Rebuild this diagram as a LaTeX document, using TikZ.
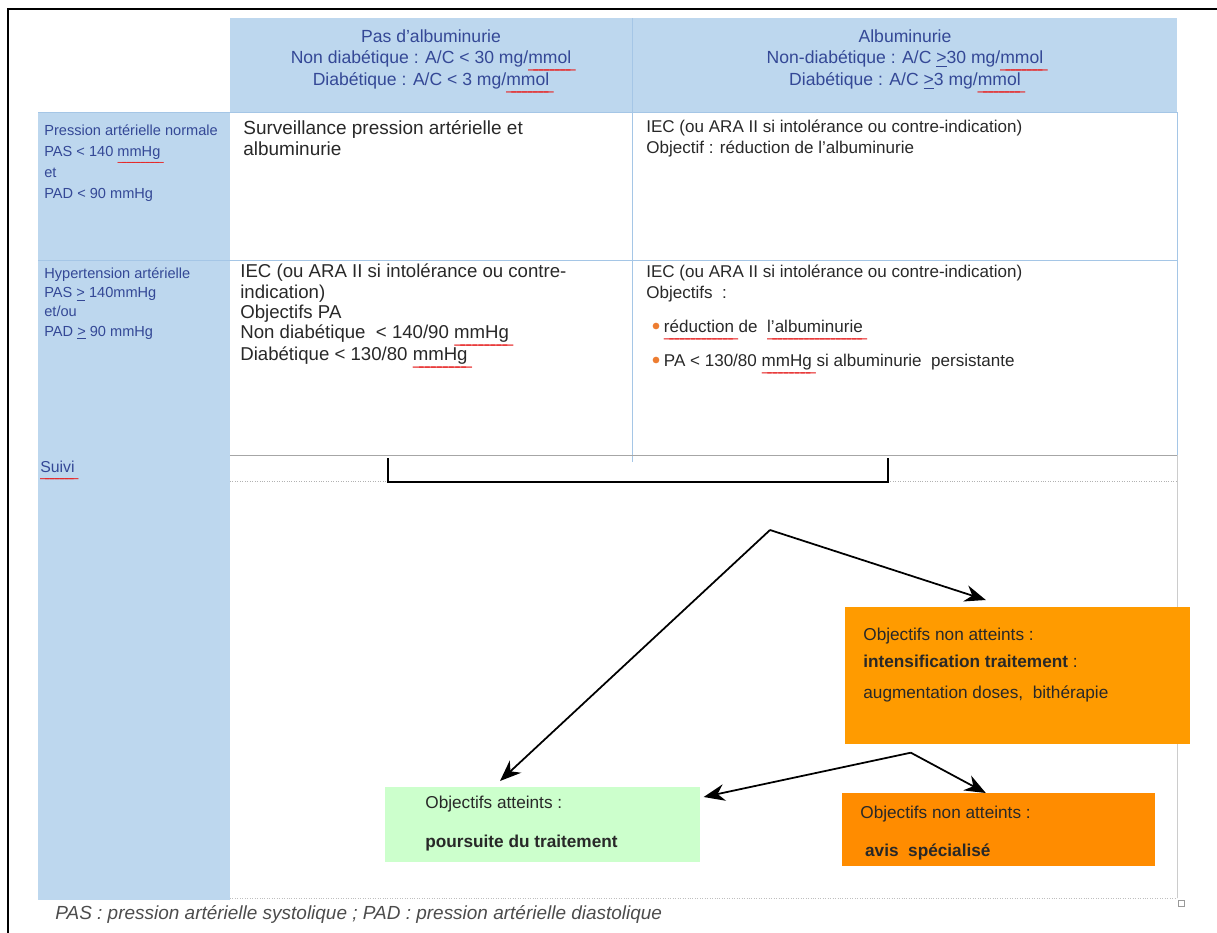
\documentclass[tikz,border=0pt]{standalone}
\usepackage{fontspec}
\setmainfont{Liberation Sans}
\newfontfamily\spellfont[Color=E62828]{Liberation Sans}
\usepackage{xcolor}
\usetikzlibrary{arrows.meta, calc}

\definecolor{cellblue}{RGB}{189,215,238}
\definecolor{gridblue}{RGB}{165,198,230}
\definecolor{headtext}{RGB}{52,72,150}
\definecolor{bodytext}{RGB}{40,40,40}
\definecolor{notmetorange}{RGB}{255,155,0}
\definecolor{expertorange}{RGB}{255,140,0}
\definecolor{metgreen}{RGB}{204,255,204}
\definecolor{dotorange}{RGB}{237,125,49}

% red line of the spell checker
\newcommand\spell[1]{\setbox0\hbox{#1}\rlap{\lower2.2pt\hbox to \wd0{\spellfont\xleaders\hbox to 0.3em{\_\hss}\hfil}}\box0\relax}
\newcommand\geline{\underline{>}}

\tikzset{
	head/.style={text=headtext, font=\fontsize{10}{11.9}\selectfont, anchor=north, inner sep=0pt},
	rowlabel/.style={text=headtext, font=\fontsize{8.3}{12}\selectfont, align=left, anchor=north west, inner sep=0pt},
	cell/.style={text=bodytext, font=\fontsize{10.6}{11.6}\selectfont, align=left, anchor=north west, inner sep=0pt},
	goalbox/.style={anchor=north west, inner sep=0pt},
	boxtext/.style={text=bodytext, font=\fontsize{9.8}{15.3}\selectfont, align=left, anchor=north west, inner sep=0pt},
	gridline/.style={gridblue, line width=0.5pt},
	flow/.style={-{Stealth[length=12pt,width=9.5pt]}, line width=1pt},
}

\begin{document}
\begin{tikzpicture}[x=0.02cm, y=-0.02cm]
		\useasboundingbox (0,0) rectangle (1217,933);
		\draw[line width=1.4pt] (8,933) -- (8,9) -- (1217,9);
		% table
		\fill[cellblue] (230,18) rectangle (1177,112);
		\fill[cellblue] (38,112) rectangle (230,900);
		\draw[gridline] (38,112) -- (1177,112);
		\draw[gridline] (38,260) -- (1177,260);
		\draw[gridline] (632,18) -- (632,462);
		\draw[gridline] (1177,112) -- (1177,455);
		\draw[black!35] (230,455) -- (1177,455);
		\draw[black!30, densely dotted] (230,481) -- (388,481);
		\draw[black!30, densely dotted] (888,481) -- (1177,481);
		\draw[black!20] (1177,455) -- (1177,898);
		\draw[black!25, densely dotted] (230,898) -- (1177,898);
		\draw[line width=1.2pt] (388,458) -- (388,482) -- (888,482) -- (888,458);
		\draw[black!40] (1178,900) rectangle (1184,906);
		% header
		\node[head] (hnone) at (431,28) {\begin{tabular}{@{}c@{}}Pas d'albuminurie\\ Non diabétique : A/C < 30 mg/\spell{mmol}\\ Diabétique : A/C < 3 mg/\spell{mmol}\end{tabular}};
		\node[head] (halb) at (905,28) {\begin{tabular}{@{}c@{}}Albuminurie\\ Non-diabétique : A/C \geline30 mg/\spell{mmol}\\ Diabétique : A/C \geline3 mg/\spell{mmol}\end{tabular}};
		% row labels
		\node[rowlabel] (lnormal) at (44,120) {\begin{tabular}{@{}l@{}}Pression artérielle normale\\ PAS < 140 \spell{mmHg}\\ et\\ PAD < 90 mmHg\end{tabular}};
		\node[rowlabel, font=\fontsize{8.3}{11}\selectfont] (lhyper) at (44,267) {Hypertension artérielle\\ PAS \geline{} 140mmHg\\ et/ou\\ PAD \geline{} 90 mmHg};
		\node[rowlabel, font=\fontsize{9}{11}\selectfont] (suivi) at (40,461) {\spell{Suivi}};
		% cells
		\node[cell, font=\fontsize{10.8}{12}\selectfont] (csurv) at (243,120) {Surveillance pression artérielle et\\ albuminurie};
		\node[cell, font=\fontsize{9.7}{12}\selectfont] (credu) at (646,120) {IEC (ou ARA II si intolérance ou contre-indication)\\ Objectif : réduction de l'albuminurie};
		\node[cell] (cpa) at (240,263) {\begin{tabular}{@{}l@{}}IEC (ou ARA II si intolérance ou contre-\\ indication)\\ Objectifs PA\\ Non diabétique \ < 140/90 \spell{mmHg}\\ Diabétique < 130/80 \spell{mmHg}\end{tabular}};
		\node[cell, font=\fontsize{9.7}{11.9}\selectfont] (cgoals) at (646,263) {\begin{tabular}{@{}l@{}}IEC (ou ARA II si intolérance ou contre-indication)\\ Objectifs \ :\\[7.4pt]
			\hspace*{10pt}\spell{réduction} de \ \spell{l'albuminurie}\\[7.4pt]
			\hspace*{10pt}PA < 130/80 \spell{mmHg} si albuminurie \ persistante\end{tabular}};
		\fill[dotorange] (656,326) circle[radius=1.9pt];
		\fill[dotorange] (656,360) circle[radius=1.9pt];
		% follow-up
		\node[goalbox, fill=notmetorange, minimum width=6.9cm, minimum height=2.74cm] (notmet) at (845,607) {};
		\node[boxtext] (notmettxt) at ($(notmet.north west)+(18,21)$) {Objectifs non atteints :\\ \textbf{intensification traitement} :\\[2pt] augmentation doses, \ bithérapie};
		\node[goalbox, fill=metgreen, minimum width=6.3cm, minimum height=1.5cm] (met) at (385,787) {};
		\node[boxtext, font=\fontsize{9.8}{22}\selectfont] (mettxt) at ($(met.north west)+(40,9)$) {Objectifs atteints :\\ \textbf{poursuite du traitement}};
		\node[goalbox, fill=expertorange, minimum width=6.26cm, minimum height=1.46cm] (expert) at (842,793) {};
		\node[boxtext, font=\fontsize{9.8}{21.5}\selectfont] (experttxt) at ($(expert.north west)+(18,13)$) {Objectifs non atteints :\\ \ \textbf{avis \ spécialisé}};
		\coordinate (fork) at (770,530);
		\coordinate (fork2) at ($(notmet.south)+(-107,8)$);
		\draw[flow] (fork) -- ($(met.north west)+(115,-6)$);
		\draw[flow] (fork) -- ($(notmet.north)+(-32,-7)$);
		\draw[flow] (fork2) -- ($(met.north east)+(3,10)$);
		\draw[flow] (fork2) -- ($(expert.north)+(-13,0)$);
		% footnote
		\node[anchor=west, inner sep=0pt, text=black!70, font=\fontsize{10.8}{12}\selectfont\itshape] (note) at (55,914) {PAS : pression artérielle systolique ; PAD : pression artérielle diastolique};
	\end{tikzpicture}
\end{document}
